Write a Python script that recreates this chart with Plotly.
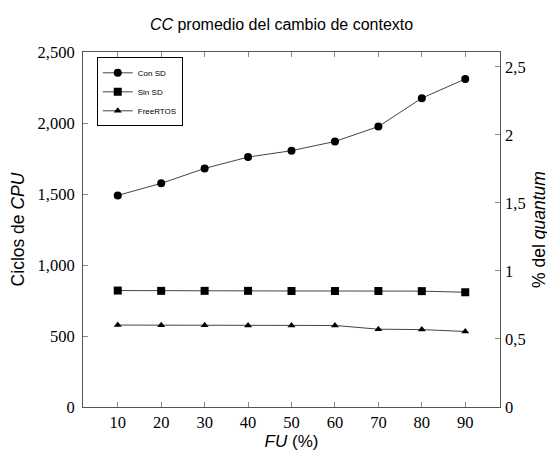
import plotly.graph_objects as go

fu = [10, 20, 30, 40, 50, 60, 70, 80, 90]
con_sd = [1490, 1575, 1680, 1760, 1805, 1870, 1975, 2175, 2310]
sin_sd = [820, 818, 818, 818, 817, 817, 817, 816, 808]
freertos = [577, 576, 576, 574, 574, 574, 548, 545, 532]

x_ticks = [10, 20, 30, 40, 50, 60, 70, 80, 90]
y_ticks = [0, 500, 1000, 1500, 2000, 2500]
y_ticklabels = ["0", "500", "1,000", "1,500", "2,000", "2,500"]
y2_ticks = [0, 0.5, 1, 1.5, 2, 2.5]
y2_ticklabels = ["0", "0,5", "1", "1,5", "2", "2,5"]

serif = "Liberation Serif, DejaVu Serif, serif"
sans = "Liberation Sans, Arial, sans-serif"
line_col = "#444444"

fig = go.Figure()
fig.add_trace(go.Scatter(x=fu, y=con_sd, name="Con SD", mode="lines+markers",
                         line=dict(color=line_col, width=1),
                         marker=dict(symbol="circle", size=8, color="black")))
fig.add_trace(go.Scatter(x=fu, y=sin_sd, name="Sin SD", mode="lines+markers",
                         line=dict(color=line_col, width=1),
                         marker=dict(symbol="square", size=8, color="black")))
fig.add_trace(go.Scatter(x=fu, y=freertos, name="FreeRTOS", mode="lines+markers",
                         line=dict(color=line_col, width=1),
                         marker=dict(symbol="triangle-up", size=7, color="black")))
fig.add_trace(go.Scatter(x=[None], y=[None], yaxis="y2", showlegend=False,
                         hoverinfo="skip", mode="lines"))

# the page adds an 8px body margin, so the figure is drawn 8px in from the corner
fig.update_layout(
    width=547, height=444,
    margin=dict(l=75, r=55, t=44, b=45, autoexpand=False),
    paper_bgcolor="white", plot_bgcolor="white",
    title=dict(text="<i>CC</i> promedio del cambio de contexto",
               x=0.5, xanchor="center", y=0.962, yanchor="middle",
               font=dict(family=sans, size=16, color="black")),
    showlegend=True,
    legend=dict(x=0.033, y=0.985, xanchor="left", yanchor="top",
                bgcolor="white", bordercolor="black", borderwidth=1,
                font=dict(family=sans, size=8, color="black"),
                itemwidth=30, tracegroupgap=0),
    xaxis=dict(range=[2, 98], tickvals=x_ticks, ticktext=[str(v) for v in x_ticks],
               ticks="inside", ticklen=5, tickcolor="#888888", automargin=False,
               showline=True, linecolor="#555555", linewidth=1, mirror="ticks",
               showgrid=False, zeroline=False,
               tickfont=dict(family=serif, size=16.5, color="black"),
               title=dict(text="<i>FU</i> (%)", standoff=4,
                          font=dict(family=sans, size=17, color="black"))),
    yaxis=dict(range=[0, 2500], tickvals=y_ticks, ticktext=y_ticklabels,
               ticks="inside", ticklen=5, tickcolor="#888888", automargin=False,
               ticklabelstandoff=4,
               showline=True, linecolor="#555555", linewidth=1, mirror=True,
               showgrid=False, zeroline=False,
               tickfont=dict(family=serif, size=16.5, color="black"),
               title=dict(text="Ciclos de <i>CPU</i>", standoff=17,
                          font=dict(family=sans, size=17.5, color="black"))),
    yaxis2=dict(range=[0, 2.61], overlaying="y", side="right",
                tickvals=y2_ticks, ticktext=y2_ticklabels, automargin=False,
                ticklabelstandoff=4,
                ticks="inside", ticklen=5, tickcolor="#888888",
                showline=False, showgrid=False, zeroline=False,
                tickfont=dict(family=serif, size=16.5, color="black"),
                title=dict(text="% del <i>quantum</i>", standoff=8,
                           font=dict(family=sans, size=17.5, color="black"))),
)

fig.write_html("out.html")
